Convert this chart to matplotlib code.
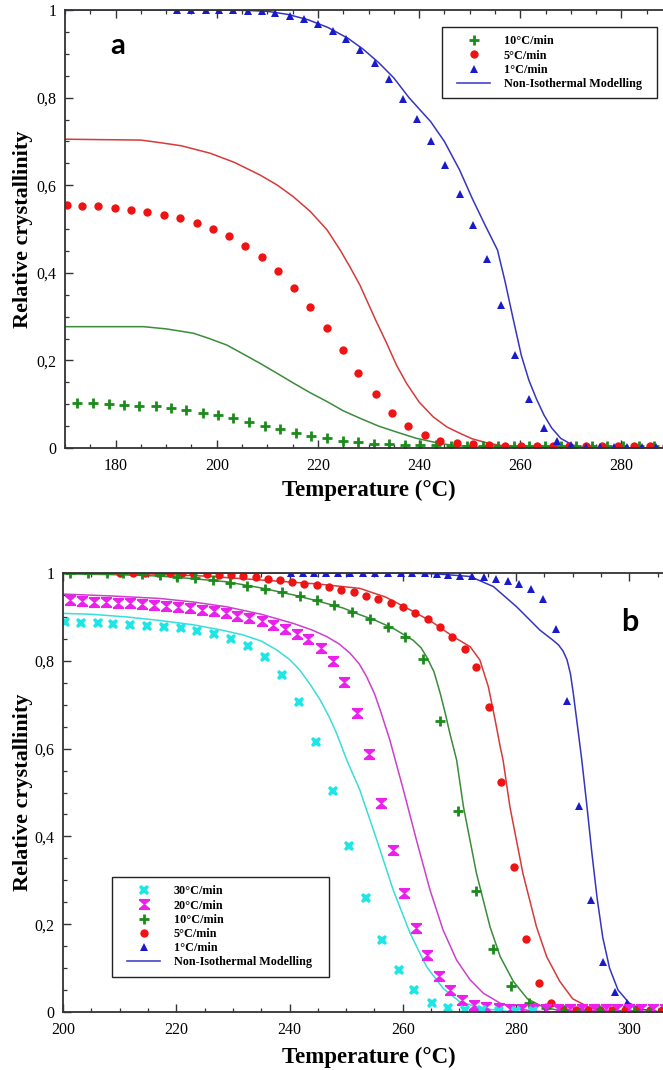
import matplotlib
matplotlib.use("Agg")
import matplotlib.pyplot as plt
from matplotlib.path import Path
from matplotlib.lines import Line2D
from matplotlib.legend_handler import HandlerLine2D
from matplotlib.ticker import MultipleLocator, FuncFormatter

plt.rcParams['font.family'] = ['Liberation Serif', 'DejaVu Serif']

# ---------------- panel a : measured points ----------------
a_T_10 = [172.4, 175.5, 178.6, 181.6, 184.7, 187.9, 190.9, 194.0, 197.2, 200.3,
          203.3, 206.4, 209.5, 212.5, 215.6, 218.7, 221.8, 224.9, 227.9, 231.0,
          234.1, 237.2, 240.2, 243.3, 246.4, 249.5, 252.6, 255.6, 258.7, 261.8,
          264.9, 268.0, 271.0, 274.1, 277.2, 280.3, 283.4, 286.5]
a_X_10 = [0.102, 0.102, 0.100, 0.099, 0.097, 0.095, 0.091, 0.086, 0.081, 0.075,
          0.068, 0.060, 0.051, 0.043, 0.035, 0.027, 0.022, 0.017, 0.013, 0.010,
          0.008, 0.007, 0.006, 0.006, 0.005, 0.005, 0.005, 0.005, 0.005, 0.005,
          0.005, 0.005, 0.005, 0.005, 0.005, 0.005, 0.005, 0.005]

a_T_5 = [170.3, 173.4, 176.6, 179.9, 183.0, 186.3, 189.5, 192.8, 196.0, 199.2,
         202.4, 205.6, 208.9, 212.1, 215.3, 218.5, 221.8, 225.0, 228.0, 231.5,
         234.6, 237.8, 241.1, 244.2, 247.5, 250.6, 253.8, 256.9, 260.1, 263.3,
         266.5, 269.7, 272.9, 276.1, 279.3, 282.5, 285.7, 288.9]
a_X_5 = [0.554, 0.553, 0.552, 0.549, 0.544, 0.539, 0.533, 0.524, 0.514, 0.500,
         0.483, 0.462, 0.437, 0.404, 0.366, 0.323, 0.274, 0.223, 0.171, 0.123,
         0.081, 0.050, 0.030, 0.017, 0.011, 0.008, 0.006, 0.005, 0.005, 0.004,
         0.004, 0.004, 0.004, 0.004, 0.004, 0.004, 0.004, 0.004]

a_T_1 = [192.2, 195.0, 197.8, 200.5, 203.3, 206.1, 208.9, 211.6, 214.4, 217.2,
         220.0, 222.9, 225.6, 228.4, 231.2, 234.0, 236.8, 239.6, 242.4, 245.2,
         248.0, 250.7, 253.5, 256.2, 259.0, 261.8, 264.6, 267.3, 270.1, 272.9,
         275.7, 278.5, 281.2, 284.0, 286.8, 289.6]
a_X_1 = [1.0, 1.0, 1.0, 1.0, 1.0, 0.998, 0.997, 0.994, 0.987, 0.979,
         0.967, 0.953, 0.934, 0.909, 0.878, 0.842, 0.797, 0.751, 0.700, 0.645,
         0.580, 0.510, 0.431, 0.326, 0.212, 0.113, 0.046, 0.016, 0.006, 0.003,
         0.003, 0.003, 0.002, 0.002, 0.002, 0.002]

# ---------------- panel a : model curves ----------------
a_mT_10 = [170, 185.5, 190, 195.4, 198.5, 202, 205, 208.6, 212, 215.2, 218.5,
           221.8, 225, 228.3, 232, 236.2, 239.5, 242.7, 245.5, 248, 252, 256, 290]
a_mX_10 = [0.277, 0.277, 0.272, 0.262, 0.250, 0.235, 0.216, 0.193, 0.170, 0.148,
           0.126, 0.106, 0.085, 0.068, 0.050, 0.034, 0.022, 0.014, 0.008, 0.005,
           0.002, 0.0, 0.0]

a_mT_5 = [170, 185, 188.9, 193, 198.7, 203.5, 208.6, 212, 215.1, 218.5, 221.8,
          224.4, 226.5, 228.3, 231.5, 233.6, 235.5, 237.5, 240, 242.8, 245.5, 248,
          250.5, 253.3, 256, 259.2, 263, 290]
a_mX_5 = [0.705, 0.703, 0.697, 0.690, 0.673, 0.652, 0.623, 0.600, 0.574, 0.540,
          0.498, 0.452, 0.410, 0.372, 0.290, 0.239, 0.190, 0.148, 0.105, 0.071,
          0.048, 0.034, 0.021, 0.012, 0.006, 0.003, 0.001, 0.0]

a_mT_1 = [170, 200, 206, 210, 214, 218, 222, 226, 229, 232, 235, 238, 242.3, 245,
          248, 250.5, 253, 255.5, 257, 258.5, 260.2, 261.7, 263.2, 264.7, 266.2,
          268, 270.3, 272, 275, 290]
a_mX_1 = [1.0, 1.0, 0.999, 0.997, 0.990, 0.978, 0.960, 0.935, 0.910, 0.880, 0.845,
          0.800, 0.745, 0.700, 0.635, 0.570, 0.510, 0.452, 0.380, 0.300, 0.212,
          0.155, 0.112, 0.075, 0.046, 0.022, 0.007, 0.002, 0.0, 0.0]

# ---------------- panel b : measured points ----------------
b_T_30 = [200.4, 203.1, 206.1, 208.9, 211.9, 214.9, 217.8, 220.8, 223.7, 226.7,
          229.7, 232.7, 235.7, 238.6, 241.6, 244.7, 247.7, 250.5, 253.5, 256.4,
          259.3, 262.0, 265.1, 268.0, 271.0, 274.0, 277.0, 280.0, 283.0]
b_X_30 = [0.889, 0.887, 0.886, 0.884, 0.882, 0.880, 0.877, 0.874, 0.869, 0.861,
          0.850, 0.834, 0.808, 0.768, 0.706, 0.614, 0.503, 0.378, 0.259, 0.164,
          0.096, 0.050, 0.021, 0.008, 0.005, 0.004, 0.003, 0.003, 0.003]

b_T_20 = [201.2, 203.3, 205.5, 207.6, 209.7, 211.8, 213.9, 216.1, 218.2, 220.3,
          222.4, 224.5, 226.6, 228.7, 230.8, 232.8, 235.1, 237.1, 239.2, 241.3,
          243.3, 245.5, 247.6, 249.7, 251.9, 254.0, 256.1, 258.2, 260.2, 262.3,
          264.3, 266.4, 268.3, 270.5, 272.6, 274.7, 276.9, 279.0, 281.1, 283.2,
          285.3, 287.4, 289.5, 291.6, 293.7, 295.8, 297.9, 300.0, 302.1, 304.2, 306.3]
b_X_20 = [0.939, 0.937, 0.935, 0.934, 0.932, 0.931, 0.929, 0.927, 0.925, 0.923,
          0.920, 0.916, 0.913, 0.908, 0.903, 0.897, 0.890, 0.882, 0.872, 0.862,
          0.849, 0.829, 0.800, 0.751, 0.680, 0.588, 0.477, 0.369, 0.270, 0.191,
          0.130, 0.082, 0.050, 0.027, 0.016, 0.011, 0.008, 0.007, 0.006, 0.006,
          0.006, 0.006, 0.006, 0.006, 0.006, 0.006, 0.006, 0.006, 0.006, 0.006, 0.006]

b_T_10 = [201.2, 204.5, 207.7, 210.6, 213.9, 217.1, 220.1, 223.3, 226.4, 229.5,
          232.5, 235.7, 238.6, 241.8, 244.8, 247.9, 251.1, 254.2, 257.3, 260.4,
          263.5, 266.6, 269.8, 272.9, 276.0, 279.1, 282.2, 285.3, 288.4, 291.5,
          294.6, 297.7, 300.8, 303.9]
b_X_10 = [1.0, 1.0, 1.0, 0.999, 0.998, 0.995, 0.992, 0.988, 0.984, 0.978,
          0.970, 0.964, 0.956, 0.948, 0.938, 0.926, 0.912, 0.895, 0.878, 0.855,
          0.804, 0.664, 0.458, 0.276, 0.144, 0.060, 0.020, 0.008, 0.005, 0.004,
          0.004, 0.003, 0.003, 0.003]

b_T_5 = [210.1, 212.4, 214.5, 216.8, 218.9, 221.0, 223.0, 225.4, 227.5, 229.6,
         231.8, 234.0, 236.2, 238.3, 240.5, 242.6, 244.8, 246.9, 249.1, 251.3,
         253.5, 255.7, 257.9, 260.0, 262.2, 264.4, 266.6, 268.7, 270.9, 273.0,
         275.3, 277.4, 279.6, 281.8, 284.0, 286.1, 288.3, 290.5, 292.7, 294.9,
         297.0, 299.2, 301.4, 303.6, 305.8]
b_X_5 = [1.0, 1.0, 1.0, 1.0, 1.0, 1.0, 0.999, 0.998, 0.996, 0.995,
         0.993, 0.990, 0.987, 0.983, 0.980, 0.976, 0.972, 0.967, 0.962, 0.956,
         0.948, 0.941, 0.932, 0.922, 0.910, 0.895, 0.876, 0.854, 0.827, 0.785,
         0.695, 0.525, 0.330, 0.167, 0.065, 0.020, 0.007, 0.004, 0.004, 0.004,
         0.004, 0.004, 0.004, 0.004, 0.004]

b_T_1 = [240.2, 242.3, 244.4, 246.5, 248.6, 250.7, 252.9, 255.1, 257.4, 259.6,
         261.7, 263.9, 266.0, 268.0, 270.1, 272.3, 274.3, 276.4, 278.5, 280.6,
         282.7, 284.8, 287.0, 289.0, 291.1, 293.2, 295.3, 297.4, 299.5, 301.5,
         303.6, 305.7]
b_X_1 = [1.0, 1.0, 1.0, 1.0, 1.0, 1.0, 1.0, 1.0, 1.0, 1.0,
         0.999, 0.999, 0.997, 0.995, 0.994, 0.993, 0.990, 0.986, 0.982, 0.975,
         0.964, 0.940, 0.872, 0.708, 0.470, 0.255, 0.115, 0.046, 0.020, 0.008,
         0.004, 0.003]

# ---------------- panel b : model curves ----------------
b_mT_30 = [200, 205, 211.2, 217, 223, 228, 231.8, 235, 237.7, 240, 241.8, 243.7,
           245.4, 247, 248.3, 250.1, 252.4, 255.4, 258.3, 261.3, 264.2, 267.1,
           270.1, 274.2, 278, 282, 310]
b_mX_30 = [0.908, 0.906, 0.900, 0.892, 0.882, 0.870, 0.859, 0.845, 0.825, 0.803,
           0.779, 0.745, 0.711, 0.672, 0.635, 0.574, 0.506, 0.392, 0.278, 0.179,
           0.103, 0.054, 0.023, 0.008, 0.002, 0.0, 0.0]

b_mT_20 = [200, 208, 217.1, 223, 228.9, 235, 240.7, 244, 246.6, 248.8, 250.7,
           252.3, 253.6, 255, 256, 257.7, 260.1, 262.4, 264.8, 267.1, 269.5, 271.9,
           274.2, 277.2, 280, 283, 286, 310]
b_mX_20 = [0.952, 0.948, 0.942, 0.934, 0.923, 0.906, 0.885, 0.870, 0.855, 0.838,
           0.817, 0.793, 0.764, 0.725, 0.688, 0.620, 0.506, 0.392, 0.278, 0.187,
           0.118, 0.073, 0.043, 0.020, 0.008, 0.002, 0.0, 0.0]

b_mT_10 = [200, 210, 217.1, 223, 228.9, 235, 240.7, 245, 249.5, 252.4, 255, 258.3,
           261.8, 263.2, 264.2, 265.5, 266.6, 267.5, 268.3, 269.5, 270.7, 273.0,
           275.4, 277.2, 279.5, 282, 285, 288, 292, 310]
b_mX_10 = [0.998, 0.996, 0.993, 0.987, 0.980, 0.966, 0.950, 0.936, 0.920, 0.905,
           0.893, 0.874, 0.847, 0.830, 0.809, 0.775, 0.726, 0.680, 0.635, 0.574,
           0.468, 0.316, 0.194, 0.126, 0.070, 0.030, 0.010, 0.003, 0.0, 0.0]

b_mT_5 = [200, 215, 225, 235, 245, 252.4, 257, 261.3, 265, 268.9, 271.9, 273.6,
          275.1, 276.3, 277.2, 277.7, 278.9, 281.2, 283.6, 285.4, 287.7, 290, 293,
          296, 300, 310]
b_mX_5 = [1.0, 0.998, 0.993, 0.984, 0.975, 0.965, 0.945, 0.916, 0.890, 0.855,
          0.832, 0.802, 0.741, 0.665, 0.604, 0.574, 0.468, 0.316, 0.194, 0.126,
          0.070, 0.030, 0.010, 0.003, 0.0, 0.0]

b_mT_1 = [200, 260, 266, 271.9, 276, 280.1, 284.2, 286.5, 287.5, 288.3, 289,
          289.6, 290.1, 291, 291.6, 292.5, 293.4, 294.3, 295.3, 296.5, 298, 300,
          302, 304, 306, 310]
b_mX_1 = [1.0, 1.0, 0.998, 0.992, 0.969, 0.923, 0.870, 0.847, 0.836, 0.822,
          0.802, 0.770, 0.726, 0.635, 0.574, 0.470, 0.360, 0.260, 0.170, 0.100,
          0.050, 0.020, 0.007, 0.002, 0.0, 0.0]

rate_labels_a = ['10°C/min', '5°C/min', '1°C/min']
rate_labels_b = ['30°C/min', '20°C/min', '10°C/min', '5°C/min', '1°C/min']
model_label = 'Non-Isothermal Modelling'

# colours
C_GREEN, C_GREEN_L = '#1b8c1b', '#3b8b3b'
C_RED, C_RED_L = '#ee1414', '#d63a3a'
C_BLUE, C_BLUE_L = '#1a1acd', '#3535bf'
C_CYAN, C_CYAN_L = '#1ee6e6', '#3adcdc'
C_MAG, C_MAG_L = '#ec20ec', '#cc40cc'

# hourglass marker
HOURGLASS = Path([(-1, 1), (1, 1), (1, 0.7), (0.15, 0), (1, -0.7), (1, -1),
                  (-1, -1), (-1, -0.7), (-0.15, 0), (-1, 0.7), (-1, 1)],
                 [Path.MOVETO] + [Path.LINETO] * 9 + [Path.CLOSEPOLY])

STY_10 = dict(marker='+', ms=7.5, mew=2.0, color=C_GREEN, ls='none')
STY_5 = dict(marker='o', ms=6, mew=0, color=C_RED, ls='none')
STY_1 = dict(marker='^', ms=5.8, mew=0, color=C_BLUE, ls='none')
STY_30 = dict(marker='X', ms=7.5, mew=0, color=C_CYAN, ls='none')
STY_20 = dict(marker=HOURGLASS, ms=8, mew=0, color=C_MAG, ls='none')

W, H = 663, 1070
fig = plt.figure(figsize=(W / 100, H / 100), dpi=100)

LEG_FONT = dict(family='Liberation Serif', weight='bold', size=8.7)


def style_axes(ax, xmin, xmax):
    ax.set_xlim(xmin, xmax)
    ax.set_ylim(0, 1)
    ax.xaxis.set_major_locator(MultipleLocator(20))
    ax.xaxis.set_minor_locator(MultipleLocator(5))
    ax.yaxis.set_major_locator(MultipleLocator(0.2))
    ax.yaxis.set_minor_locator(MultipleLocator(0.05))
    ax.yaxis.set_major_formatter(
        FuncFormatter(lambda v, _: ('%g' % round(v, 2)).replace('.', ',')))
    ax.tick_params(which='both', direction='in', top=True, right=True,
                   color='#333333', labelsize=11.5)
    ax.tick_params(axis='x', which='major', pad=7)
    ax.tick_params(axis='y', which='major', pad=6)
    ax.tick_params(which='major', length=6, width=1.0)
    ax.tick_params(which='minor', length=3, width=0.9)
    for s in ax.spines.values():
        s.set_color('#333333')
        s.set_linewidth(1.3)
    ax.set_ylabel('Relative crystallinity', fontsize=16, fontweight='bold')
    ax.set_xlabel('Temperature (°C)', fontsize=16.5, fontweight='bold')


def add_legend(ax, handles, labels, x0, y0, x1, y1):
    leg = ax.legend(handles, labels, loc='upper left', mode='expand',
                    bbox_to_anchor=(x0 / W, 1 - y1 / H, (x1 - x0) / W, (y1 - y0) / H),
                    bbox_transform=fig.transFigure, borderaxespad=0,
                    prop=LEG_FONT, frameon=True, fancybox=False,
                    edgecolor='#222222', framealpha=1, numpoints=1,
                    handlelength=3.3, handletextpad=1.1, borderpad=0.7,
                    labelspacing=0.18,
                    handler_map={Line2D: HandlerLine2D(xpad=0.55)})
    leg.get_frame().set_linewidth(1.0)
    return leg


# ---------------- panel a ----------------
ax_a = fig.add_axes([65 / W, 1 - 448 / H, 607 / W, 438 / H])
style_axes(ax_a, 170, 290)
ax_a.plot(a_mT_10, a_mX_10, color=C_GREEN_L, lw=1.1)
ax_a.plot(a_mT_5, a_mX_5, color=C_RED_L, lw=1.1)
ax_a.plot(a_mT_1, a_mX_1, color=C_BLUE_L, lw=1.1)
h10 = ax_a.plot(a_T_10, a_X_10, **STY_10)[0]
h5 = ax_a.plot(a_T_5, a_X_5, **STY_5)[0]
h1 = ax_a.plot(a_T_1, a_X_1, **STY_1)[0]
hm = Line2D([], [], color='#4545c8', lw=1.2)
ax_a.yaxis.set_label_coords(-0.053, 0.5)
ax_a.xaxis.set_label_coords(0.5, -0.072)
add_legend(ax_a, [h10, h5, h1, hm], rate_labels_a + [model_label],
           442, 27, 657, 98)
fig.text(118 / W, 1 - 46 / H, 'a', family='Lato', fontweight='bold',
         fontsize=21, ha='center', va='center')

# ---------------- panel b ----------------
ax_b = fig.add_axes([63 / W, 1 - 1012 / H, 623 / W, 439 / H])
style_axes(ax_b, 200, 310)
ax_b.plot(b_mT_30, b_mX_30, color=C_CYAN_L, lw=1.1)
ax_b.plot(b_mT_20, b_mX_20, color=C_MAG_L, lw=1.1)
ax_b.plot(b_mT_10, b_mX_10, color=C_GREEN_L, lw=1.1)
ax_b.plot(b_mT_5, b_mX_5, color=C_RED_L, lw=1.1)
ax_b.plot(b_mT_1, b_mX_1, color=C_BLUE_L, lw=1.1)
g1 = ax_b.plot(b_T_1, b_X_1, **STY_1)[0]
g5 = ax_b.plot(b_T_5, b_X_5, **STY_5)[0]
g10 = ax_b.plot(b_T_10, b_X_10, **STY_10)[0]
g20 = ax_b.plot(b_T_20, b_X_20, **STY_20)[0]
g30 = ax_b.plot(b_T_30, b_X_30, **STY_30)[0]
ax_b.yaxis.set_label_coords(-0.048, 0.5)
ax_b.xaxis.set_label_coords(0.491, -0.079)
add_legend(ax_b, [g30, g20, g10, g5, g1, hm], rate_labels_b + [model_label],
           112, 877, 329, 979)
fig.text(630 / W, 1 - 622 / H, 'b', family='Lato', fontweight='bold',
         fontsize=22, ha='center', va='center')

fig.savefig('out.png', dpi=100)
